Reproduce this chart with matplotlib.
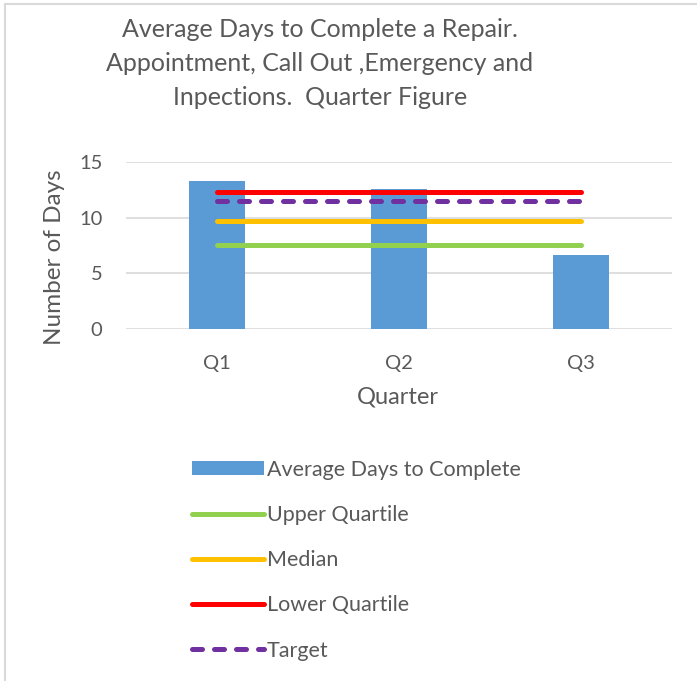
import matplotlib
matplotlib.use('Agg')
import matplotlib.pyplot as plt
from matplotlib.patches import Rectangle
import numpy as np

# data
quarters = ['Q1', 'Q2', 'Q3']
avg_days = [13.35, 12.6, 6.7]
upper_quartile = [7.6, 7.6, 7.6]
median = [9.7, 9.7, 9.7]
lower_quartile = [12.3, 12.3, 12.3]
target = [11.5, 11.5, 11.5]

title = ('Average Days to Complete a Repair.\n'
         'Appointment, Call Out ,Emergency and\n'
         'Inpections.  Quarter Figure')

txt = '#595959'
plt.rcParams['font.family'] = ['Lato', 'DejaVu Sans']

W, H = 697, 681
fig = plt.figure(figsize=(W / 100, H / 100), dpi=100)

# light grey chart border (left & top visible)
fig.patches.append(Rectangle((5 / W, -0.1), 1.2, 1 - 4 / H + 0.1,
                             transform=fig.transFigure, fill=False,
                             edgecolor='#D9D9D9', linewidth=1.5))

ax = fig.add_axes([126 / W, 1 - 329 / H, (672 - 126) / W, (329 - 162.3) / H])
x = np.arange(len(quarters))

bars = ax.bar(x, avg_days, width=0.31, color='#5B9BD5', label='Average Days to Complete', zorder=2)
lw = 3.6
l1, = ax.plot(x, upper_quartile, color='#92D050', lw=lw, solid_capstyle='round', label='Upper Quartile', zorder=3)
l2, = ax.plot(x, median, color='#FFC000', lw=lw, solid_capstyle='round', label='Median', zorder=3)
l3, = ax.plot(x, lower_quartile, color='#FF0000', lw=lw, solid_capstyle='round', label='Lower Quartile', zorder=3)
l4, = ax.plot(x, target, color='#7030A0', lw=lw, dashes=(2.0, 2.4), dash_capstyle='round', label='Target', zorder=3)

ax.set_xlim(-0.5, 2.5)
ax.set_ylim(0, 15)
ax.set_yticks([0, 5, 10, 15])
ax.set_xticks(x)
ax.set_xticklabels(quarters)
ax.yaxis.grid(True, color='#D9D9D9', lw=1.2, zorder=0)
for s in ax.spines.values():
    s.set_visible(False)
ax.tick_params(length=0, labelsize=14.5, colors=txt)
ax.tick_params(axis='x', pad=19)
ax.tick_params(axis='y', pad=17)

fig.text(55 / W, 1 - 257 / H, 'Number of Days', rotation=90, ha='center', va='center',
         fontsize=17.5, color=txt)
fig.text(398 / W, 1 - 397 / H, 'Quarter', ha='center', va='center', fontsize=17, color=txt)
fig.text(320 / W, 1 - 63.5 / H, title, ha='center', va='center', fontsize=18,
         color=txt, linespacing=1.6)

fig.legend([bars, l1, l2, l3, l4],
           ['Average Days to Complete', 'Upper Quartile', 'Median', 'Lower Quartile', 'Target'],
           loc='upper left', bbox_to_anchor=(181 / W, 1 - 449 / H), frameon=False, borderpad=0,
           fontsize=15.5, labelcolor=txt, handlelength=3.35, handleheight=0.62,
           handletextpad=0.15, labelspacing=1.17)

fig.savefig('out.png', dpi=100)
